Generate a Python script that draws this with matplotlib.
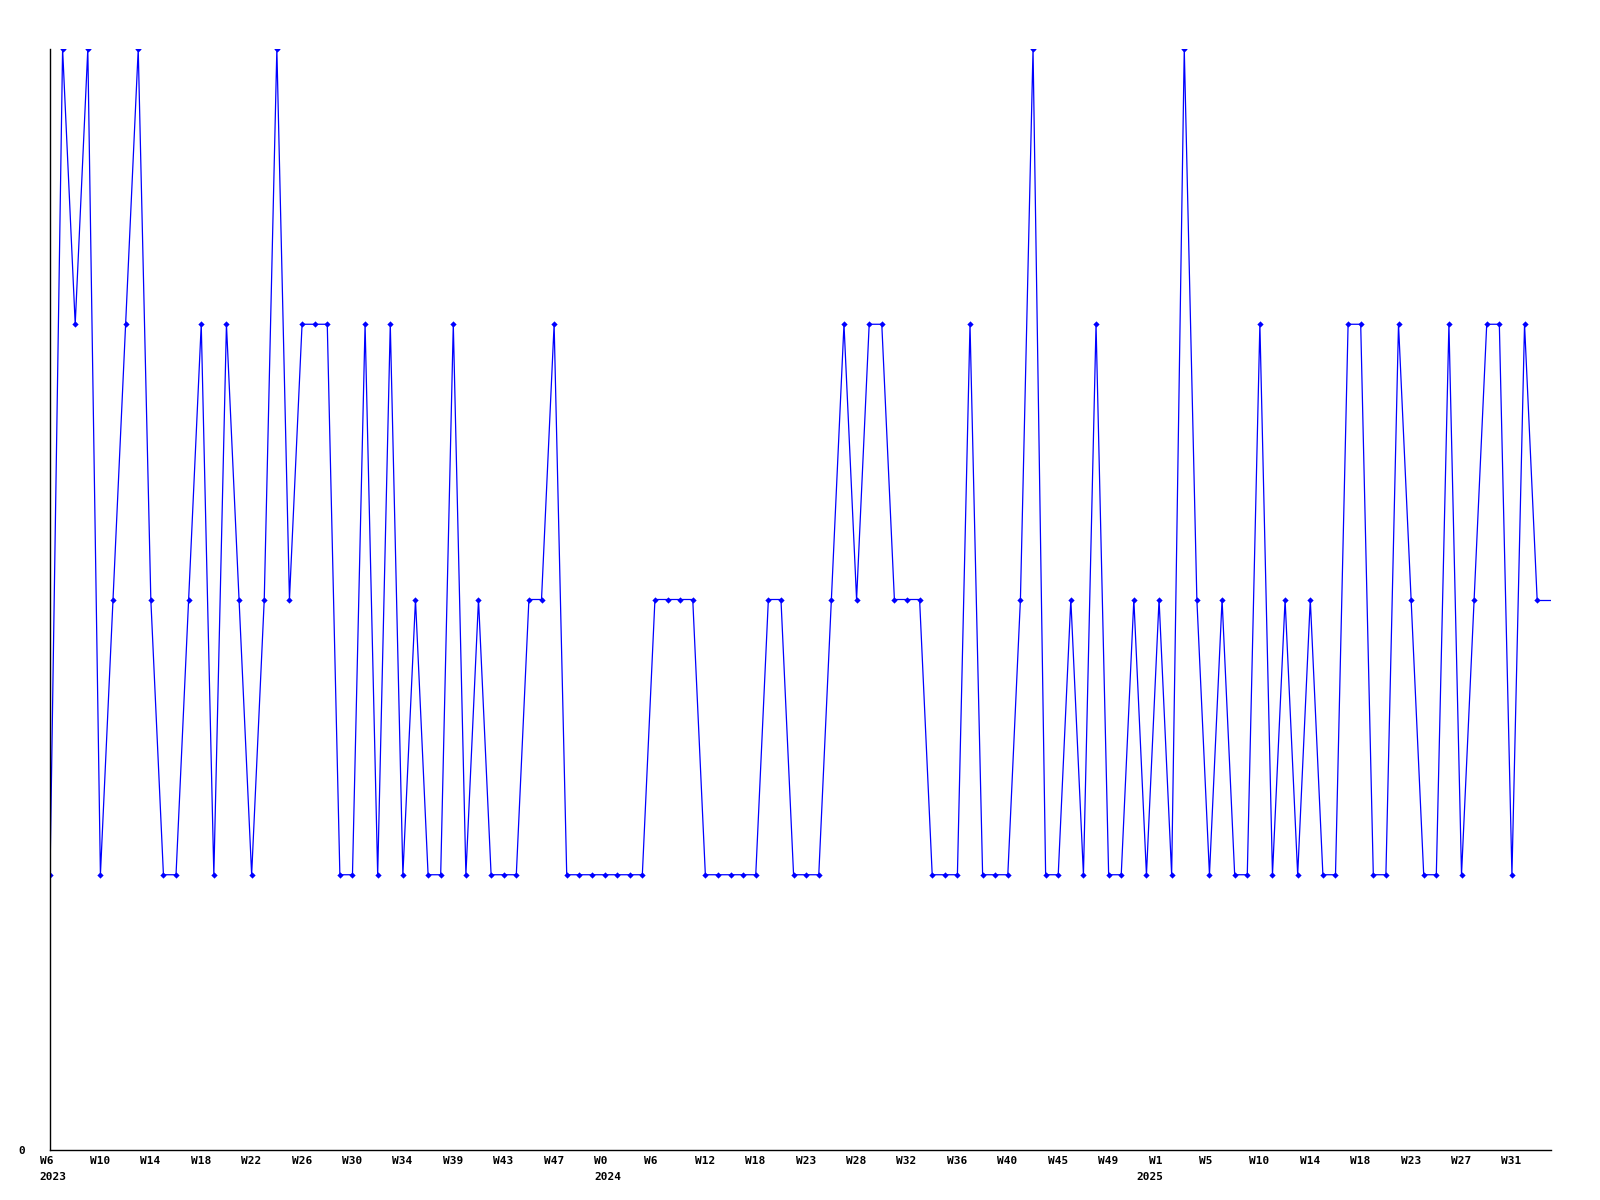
import numpy as np
import matplotlib
matplotlib.use("Agg")
import matplotlib.pyplot as plt
from matplotlib.transforms import ScaledTranslation, blended_transform_factory

# weekly values, first point = 2023 W6
values = [1, 4, 3, 4, 1, 2, 3, 4, 2, 1,
          1, 2, 3, 1, 3, 2, 1, 2, 4, 2,
          3, 3, 3, 1, 1, 3, 1, 3, 1, 2,
          1, 1, 3, 1, 2, 1, 1, 1, 2, 2,
          3, 1, 1, 1, 1, 1, 1, 1, 2, 2,
          2, 2, 1, 1, 1, 1, 1, 2, 2, 1,
          1, 1, 2, 3, 2, 3, 3, 2, 2, 2,
          1, 1, 1, 3, 1, 1, 1, 2, 4, 1,
          1, 2, 1, 3, 1, 1, 2, 1, 2, 1,
          4, 2, 1, 2, 1, 1, 3, 1, 2, 1,
          2, 1, 1, 3, 3, 1, 1, 3, 2, 1,
          1, 3, 1, 2, 3, 3, 1, 3, 2]

tick_weeks = ["W6", "W10", "W14", "W18", "W22", "W26", "W30", "W34", "W39", "W43",
              "W47", "W0", "W6", "W12", "W18", "W23", "W28", "W32", "W36", "W40",
              "W45", "W49", "W1", "W5", "W10", "W14", "W18", "W23", "W27", "W31"]
tick_step = 4
years = {0: "2023", 11: "2024", 22: "2025"}   # tick number -> year label

x = np.arange(len(values))
x_end = 119.1

fig = plt.figure(figsize=(16, 12), dpi=100)
ax = fig.add_axes([50 / 1600, 50 / 1200, 1501 / 1600, 1101 / 1200])

ax.plot(x, values, color="#0000ff", linewidth=0.9, marker="D", markersize=3.2,
        markeredgewidth=0)
# flat run-out of the last value to the right edge
ax.plot([x[-1], x_end], [values[-1], values[-1]], color="#0000ff", linewidth=0.9)

ax.set_xlim(0, x_end)
ax.set_ylim(0, 4)

for s in ["top", "right"]:
    ax.spines[s].set_visible(False)
for s in ["left", "bottom"]:
    ax.spines[s].set_color("black")
    ax.spines[s].set_linewidth(1.0)

font = dict(family="DejaVu Sans Mono", weight="bold", size=8)

ax.set_yticks([0])
ax.set_yticklabels(["0"], **font)
ax.tick_params(axis="y", length=0, pad=18)

ax.set_xticks([])

# week labels and year labels, left-aligned just left of the tick
trans = blended_transform_factory(ax.transData, ax.transAxes)
for k, wk in enumerate(tick_weeks):
    pos = k * tick_step
    off = ScaledTranslation(-10.5 / 100, -11 / 100, fig.dpi_scale_trans)
    ax.text(pos, 0, wk, transform=trans + off, ha="left", va="center", **font)
    if k in years:
        # the last year label sits a little further left, as in the original
        dx = -23 if k == 22 else -10.5
        off2 = ScaledTranslation(dx / 100, -27 / 100, fig.dpi_scale_trans)
        ax.text(pos, 0, years[k], transform=trans + off2, ha="left", va="center", **font)

fig.savefig("out.png", dpi=100, facecolor="white")
